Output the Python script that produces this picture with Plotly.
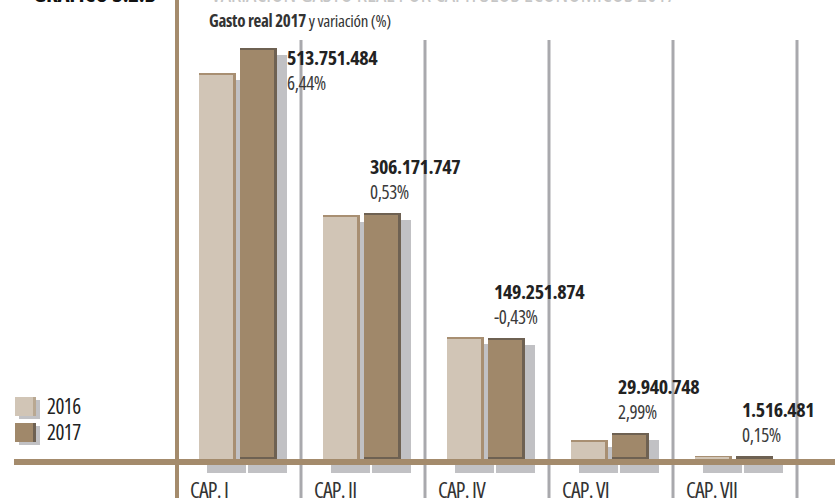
import plotly.graph_objects as go

# ---------------- data ----------------
categories = ["CAP. I", "CAP. II", "CAP. IV", "CAP. VI", "CAP. VII"]
gasto_2016 = [482.7, 303.5, 150.5, 21.5, 1.5]          # millones
gasto_2017 = [513.751484, 306.171747, 149.251874, 29.940748, 1.516481]
labels_2017 = ["513.751.484", "306.171.747", "149.251.874", "29.940.748", "1.516.481"]
variacion = ["6,44%", "0,53%", "-0,43%", "2,99%", "0,15%"]
series_names = ["2016", "2017"]

# ---------------- geometry helpers (pixel -> axis units) ----------------
W, H = 835, 498
X0, XS = 239.0, 124.0        # px of first category centre, px per category
Y0, YS = 459.0, 0.796        # px of zero line, px per million
xr = [(0 - X0) / XS, (W - X0) / XS]
yr = [(Y0 - H) / YS, Y0 / YS]


def dx(px):
    return px / XS


def dy(px):
    return px / YS


def px_x(px):
    return px / W


def px_y(py):
    return 1 - py / H


FONT = "Open Sans"


def cond(txt, ls=-0.5):
    return f"<span style='font-stretch:75%;letter-spacing:{ls}px'>{txt}</span>"


C16, C16_EDGE = "#d1c5b6", "#a88f72"
C17, C17_EDGE = "#a0886a", "#6e6152"
SHADOW = "#c1c1c4"
BROWN = "#a48b6c"
GRID = "#a9a9ad"

idx = list(range(len(categories)))
fig = go.Figure()

# drop shadows (behind the bars, reaching under the base line)
for vals, off in ((gasto_2016, -32), (gasto_2017, 9)):
    fig.add_trace(go.Bar(
        x=idx, y=[v + dy(9) for v in vals], base=[-dy(14)] * len(vals),
        offset=dx(off), width=dx(39), marker=dict(color=SHADOW, line=dict(width=0)),
        showlegend=False, hoverinfo="skip"))

# 2016 bars (edge + face)
fig.add_trace(go.Bar(x=idx, y=[v + dy(2) for v in gasto_2016], offset=dx(-40), width=dx(37),
                     marker=dict(color=C16_EDGE, line=dict(width=0)), showlegend=False, hoverinfo="skip"))
fig.add_trace(go.Bar(x=idx, y=gasto_2016, offset=dx(-40), width=dx(34), name=series_names[0],
                     marker=dict(color=C16, line=dict(width=0)), showlegend=False))
# 2017 bars (edge + face)
fig.add_trace(go.Bar(x=idx, y=[v + dy(2) for v in gasto_2017], offset=dx(1), width=dx(37),
                     marker=dict(color=C17_EDGE, line=dict(width=0)), showlegend=False, hoverinfo="skip"))
fig.add_trace(go.Bar(x=idx, y=[max(v - dy(2), 0) for v in gasto_2017], base=[dy(2)] * len(idx),
                     offset=dx(1), width=dx(34), name=series_names[1],
                     marker=dict(color=C17, line=dict(width=0)), showlegend=False))

shapes = []
# grey separators between chapters
for i in idx:
    shapes.append(dict(type="line", xref="x", yref="paper", x0=i + 0.5, x1=i + 0.5,
                       y0=0, y1=px_y(40), line=dict(color=GRID, width=3), layer="below"))
# brown vertical line
shapes.append(dict(type="line", xref="x", yref="paper", x0=-0.5, x1=-0.5, y0=0, y1=1,
                   line=dict(color=BROWN, width=4), layer="above"))
# base line
shapes.append(dict(type="line", xref="paper", yref="paper", x0=px_x(14), x1=1, y0=px_y(462), y1=px_y(462),
                   line=dict(color=BROWN, width=6), layer="above"))

# legend swatches
for k, (face, edge, top) in enumerate(((C16, "#b9a892", 397), (C17, C17_EDGE, 423))):
    shapes.append(dict(type="rect", xref="paper", yref="paper", x0=px_x(19), x1=px_x(40),
                       y0=px_y(top + 22), y1=px_y(top + 3), fillcolor=SHADOW, line=dict(width=0)))
    shapes.append(dict(type="rect", xref="paper", yref="paper", x0=px_x(15), x1=px_x(36),
                       y0=px_y(top + 19), y1=px_y(top), fillcolor=edge, line=dict(width=0)))
    shapes.append(dict(type="rect", xref="paper", yref="paper", x0=px_x(15), x1=px_x(33),
                       y0=px_y(top + 19), y1=px_y(top), fillcolor=face, line=dict(width=0)))

annotations = []
for k, name in enumerate(series_names):
    annotations.append(dict(xref="paper", yref="paper", x=px_x(45), y=px_y(406 + 26 * k),
                            xanchor="left", yanchor="middle", showarrow=False, text=cond(name),
                            font=dict(family=FONT, size=21, color="#222")))

# category labels
for i, c in zip(idx, categories):
    annotations.append(dict(xref="x", yref="paper", x=i - 0.5 + dx(11), y=px_y(489),
                            xanchor="left", yanchor="middle", showarrow=False, text=cond(c, -0.8),
                            font=dict(family=FONT, size=22, color="#333")))

# value labels (value + variation)
for i, v, lab, var in zip(idx, gasto_2017, labels_2017, variacion):
    if (Y0 - v * YS) > 60:
        xl, sh = i + dx(5), 36
    else:
        xl, sh = i + dx(46), -19.5
    txt = cond(f"<span style='font-size:20px'><b>{lab}</b></span><br>"
               f"<span style='color:#3a3a3a'>{var}</span>", -0.4)
    annotations.append(dict(xref="x", yref="y", x=xl, y=v, xanchor="left", yanchor="middle",
                            yshift=sh, showarrow=False, align="left", text=txt,
                            font=dict(family=FONT, size=19, color="#222")))

# titles (cut off at the top edge as in the source)
annotations.append(dict(xref="paper", yref="paper", x=px_x(31), y=px_y(10.5), xanchor="left", yanchor="bottom",
                        showarrow=False, text=cond("<b>GRÁFICO 3.2.B</b>", -0.3),
                        font=dict(family=FONT, size=23, color="#111")))
annotations.append(dict(xref="paper", yref="paper", x=px_x(209), y=px_y(10.5), xanchor="left", yanchor="bottom",
                        showarrow=False, text=cond("VARIACIÓN GASTO REAL POR CAPÍTULOS ECONÓMICOS 2017", -0.3),
                        font=dict(family=FONT, size=23.3, color="#c6c6c6")))
annotations.append(dict(xref="paper", yref="paper", x=px_x(207), y=px_y(20), xanchor="left", yanchor="middle",
                        showarrow=False, text=cond("<b>Gasto real 2017</b> y variación (%)", -0.3),
                        font=dict(family=FONT, size=17, color="#333")))

fig.update_layout(
    width=W, height=H, margin=dict(l=0, r=0, t=0, b=0),
    paper_bgcolor="white", plot_bgcolor="white",
    barmode="overlay", bargap=0,
    xaxis=dict(range=xr, visible=False, fixedrange=True),
    yaxis=dict(range=yr, visible=False, fixedrange=True),
    shapes=shapes, annotations=annotations, showlegend=False,
)

fig.write_html("out.html", config={"displayModeBar": False},
               post_script="document.body.style.margin='0';document.body.style.overflow='hidden';")
